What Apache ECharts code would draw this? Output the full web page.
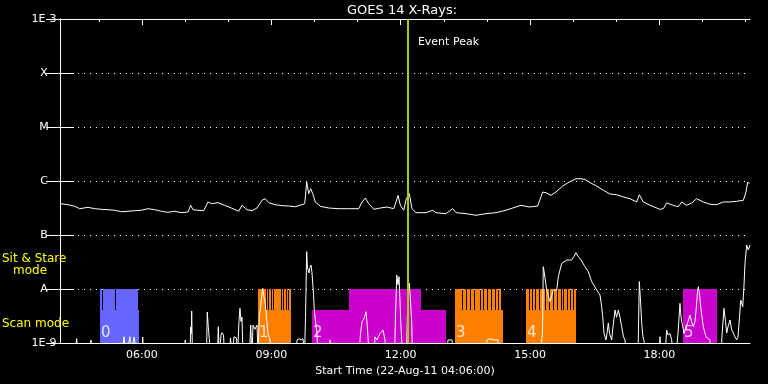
<!DOCTYPE html>
<html>
<head>
<meta charset="utf-8">
<script src="https://cdn.jsdelivr.net/npm/echarts@6/dist/echarts.min.js"></script>
<style>
html,body{margin:0;padding:0;background:#000;}
#chart{width:768px;height:384px;}
</style>
</head>
<body>
<div id="chart"></div>
<script>
// ---------- DATA ----------
// time axis: minutes since start (22-Aug-11 04:06:00)
const titleText = 'GOES 14 X-Rays:';
const startLabel = 'Start Time (22-Aug-11 04:06:00)';
const xMin = 0, xMax = 960;
const xTickMinutes = [114, 294, 474, 654, 834];
const xTickLabels = ['06:00', '09:00', '12:00', '15:00', '18:00'];
const hourTickMinutes = [54, 114, 174, 234, 294, 354, 414, 474, 534, 594, 654, 714, 774, 834, 894, 954];

const yLevels = [1e-9, 1e-8, 1e-7, 1e-6, 1e-5, 1e-4, 1e-3];
const yLabels = ['1E-9', 'A', 'B', 'C', 'M', 'X', '1E-3'];

const eventPeak = 484;          // 12:10
const eventPeakLabel = 'Event Peak';
const eventPeakLabelY = 3.67e-4;

// GOES long channel (1-8 A), W/m^2
const longChannel = [[1,3.80e-7],[11,3.64e-7],[20.5,3.40e-7],[27.4,3.07e-7],[39,3.26e-7],[48.3,3.07e-7],[57.5,2.99e-7],[66.8,2.94e-7],[76.1,2.87e-7],[85.3,2.70e-7],[94.6,2.75e-7],[103.9,2.82e-7],[113.1,2.87e-7],[122.4,3.07e-7],[131.8,2.94e-7],[140.9,2.75e-7],[150.3,2.63e-7],[159.6,2.75e-7],[168.8,2.59e-7],[178.1,2.67e-7],[181.8,3.55e-7],[185,2.94e-7],[192,2.87e-7],[199.9,2.82e-7],[205.9,4.09e-7],[210.5,3.80e-7],[219.8,3.97e-7],[229.1,3.55e-7],[238.3,3.16e-7],[239.3,2.99e-7],[248.6,2.75e-7],[253.2,3.55e-7],[260.2,2.94e-7],[267.1,2.82e-7],[274.1,3.16e-7],[281,4.39e-7],[285.6,4.70e-7],[290.4,3.97e-7],[299.5,3.64e-7],[308.9,3.49e-7],[318.2,3.44e-7],[327.4,3.34e-7],[336.7,3.64e-7],[340.5,3.80e-7],[343.2,9.58e-7],[346,5.82e-7],[348.8,7.20e-7],[351.6,5.82e-7],[355.2,4.09e-7],[362.2,3.40e-7],[373.8,3.16e-7],[387.8,3.07e-7],[401.7,3.07e-7],[415.6,3.07e-7],[420.2,4.09e-7],[424.8,4.84e-7],[429.5,3.80e-7],[436.5,2.99e-7],[445.6,3.16e-7],[455,3.30e-7],[464.3,3.07e-7],[467.5,4.09e-7],[470.3,5.43e-7],[473.5,3.55e-7],[478.2,2.87e-7],[481.8,4.70e-7],[486,5.82e-7],[489.7,3.07e-7],[495.3,2.59e-7],[509.2,2.59e-7],[518.6,2.87e-7],[523.1,2.59e-7],[537,2.48e-7],[546.4,3.07e-7],[551,2.59e-7],[564.9,2.48e-7],[578.8,2.32e-7],[592.7,2.48e-7],[606.6,2.59e-7],[620.5,2.87e-7],[629.8,3.16e-7],[641.4,3.55e-7],[652.9,3.30e-7],[664.6,3.44e-7],[671.6,6.25e-7],[676.2,6.07e-7],[683.1,5.43e-7],[690.1,6.25e-7],[699.4,8.07e-7],[708.6,9.58e-7],[717.9,1.10e-6],[724.9,1.10e-6],[730.4,1.07e-6],[737.4,9.31e-7],[746.7,8.07e-7],[755.9,6.73e-7],[765.2,5.74e-7],[774.6,5.57e-7],[783.7,5.06e-7],[793,4.70e-7],[802.4,4.09e-7],[806,5.57e-7],[811.6,4.09e-7],[820.9,3.55e-7],[834.8,2.99e-7],[839.4,3.07e-7],[844.1,3.92e-7],[853.3,3.55e-7],[860.3,3.34e-7],[865,4.09e-7],[871.9,3.55e-7],[878.9,3.92e-7],[885.8,4.70e-7],[895,4.09e-7],[904.3,3.71e-7],[913.6,3.64e-7],[922.9,4.09e-7],[932.2,4.09e-7],[941.5,4.21e-7],[950.7,4.39e-7],[954.4,6.25e-7],[956.8,9.58e-7],[959,8.91e-7]];

// GOES short channel (0.5-4 A); F = below plot floor
const F = 6e-10;
const shortChannel = [[0,F],[20.9,F],[23.2,1.20e-9],[25,F],[41.7,F],[43.1,1.14e-9],[45.2,F],[86.3,F],[89,1.31e-9],[91.8,F],[97.4,1.31e-9],[98.8,F],[103,1.29e-9],[105.7,1.31e-9],[107.1,F],[114.1,F],[115.1,1.29e-9],[116.2,F],[173.2,F],[174.3,1.14e-9],[175.3,F],[180.9,F],[181.8,1.98e-9],[182.7,1.5e-9],[183.2,3.91e-9],[184.3,F],[203.8,F],[204.9,3.75e-9],[206.3,2.0e-9],[207.7,1.2e-9],[208.7,F],[219.1,F],[220.2,2.0e-9],[221.6,F],[224,1.4e-9],[225.4,1.55e-9],[227.5,1.4e-9],[228.9,F],[235.8,F],[237.2,1.24e-9],[239.3,F],[242.1,1.3e-9],[245.6,1.24e-9],[247,F],[249,2.5e-9],[250.4,4.39e-9],[251.8,2.5e-9],[253.2,3.03e-9],[254.6,F],[263.6,F],[265.3,2.15e-9],[267.1,F],[268.5,2.15e-9],[271.3,1.8e-9],[274.1,2.15e-9],[275.5,F],[277.3,3.07e-9],[279,4.5e-9],[280.4,7e-9],[282,1.03e-8],[283.8,7e-9],[285.2,6.25e-9],[287.3,3e-9],[289.4,1.5e-9],[292.2,1.14e-9],[293.6,F],[329,F],[329.7,1.14e-9],[332.5,1.2e-9],[335.3,1.14e-9],[338.1,1.2e-9],[340.2,F],[341.6,3e-9],[343.2,4.91e-8],[344.3,2.5e-8],[346.4,1.98e-8],[347.8,2.5e-8],[349.2,2.78e-8],[350.6,2.0e-8],[351.6,1.29e-8],[352.7,8e-9],[353.8,4.08e-9],[355.5,2.5e-9],[357.1,1.74e-9],[358.9,F],[374.3,F],[375.7,1.14e-9],[377,F],[416,F],[418.1,1.5e-9],[420.2,2.5e-9],[423,2.8e-9],[425.7,3.80e-9],[427.1,2.5e-9],[428.5,1.3e-9],[429.9,F],[436.9,F],[438.3,1.3e-9],[441,1.14e-9],[445.2,1.5e-9],[449.4,1.74e-9],[452.2,1.14e-9],[453.6,F],[465.4,F],[466.8,3e-9],[468.5,1.82e-8],[470.3,1.2e-8],[471.7,1.69e-8],[473,6e-9],[474,2.67e-9],[475.1,1.3e-9],[476.5,F],[482.1,F],[483.5,4e-9],[484.9,1.0e-8],[486,1.28e-8],[487.7,6e-9],[489.3,2.35e-9],[490.4,F],[537.7,F],[539.8,1.14e-9],[545.4,1.14e-9],[547.5,F],[592,F],[594.1,1.14e-9],[598.3,1.2e-9],[603.8,1.14e-9],[609.4,1.14e-9],[610.8,F],[669.2,F],[670.2,1.14e-9],[671.3,1.5e-9],[672.4,2.59e-8],[673.8,1.98e-8],[677.1,9.58e-9],[681.7,5.82e-9],[686.3,9.58e-9],[691.1,9.58e-9],[693.3,1.69e-8],[698,2.99e-8],[705,3.44e-8],[711.9,3.44e-8],[715.1,4.0e-8],[717.9,4.70e-8],[720.7,4.0e-8],[723.5,3.70e-8],[730.4,2.59e-8],[735,2.09e-8],[739.8,1.37e-8],[746.7,9.58e-9],[751.3,7.74e-9],[753.4,5e-9],[755.1,3.07e-9],[756.9,1.5e-9],[759.7,1.14e-9],[761,1.5e-9],[762.9,2.35e-9],[764.5,1.5e-9],[767.6,1.14e-9],[769.4,2e-9],[772.2,4.08e-9],[774.3,3e-9],[776.8,4.08e-9],[779.1,3e-9],[781.5,2.0e-9],[784,1.3e-9],[786.1,1.14e-9],[787.5,F],[804.2,F],[806,1.37e-8],[807.7,6e-9],[809.3,2.35e-9],[811.1,1.3e-9],[812.5,1.14e-9],[813.9,F],[833.4,F],[834.8,1.31e-9],[836.2,F],[841.7,F],[844.1,1.74e-9],[845.9,1.4e-9],[848.7,1.5e-9],[851,1.14e-9],[852.9,F],[857,F],[859.8,1.5e-9],[862.6,5.43e-9],[864,3e-9],[866.4,2.0e-9],[868.2,1.5e-9],[871,2e-9],[873.8,2.5e-9],[876.5,3.30e-9],[878.6,2.5e-9],[881.1,2.0e-9],[883.5,2.5e-9],[885.6,5e-9],[887,9e-9],[888.1,1.10e-8],[889.7,8e-9],[891.4,4.70e-9],[893.2,3e-9],[895,2.0e-9],[898.8,1.3e-9],[904.3,1.14e-9],[905.8,F],[919.7,F],[921.1,1.4e-9],[923.8,4.39e-9],[925.9,2.5e-9],[927.6,1.53e-9],[929.4,2e-9],[932.2,2.67e-9],[934.3,1.8e-9],[936.8,1.74e-9],[939.1,1.3e-9],[941.5,1.14e-9],[943.3,1.3e-9],[945.4,3e-9],[947.1,6.25e-9],[949.9,4.70e-9],[951.7,1.2e-8],[953,2.99e-8],[955.4,6.53e-8],[957.6,5.27e-8],[960,6.53e-8]];

// Observing-mode blocks
const blockNames = ['0', '1', '2', '3', '4', '5'];
const blockKinds = ['blue', 'orange', 'magenta', 'orange', 'orange', 'magenta'];
const scanLevel = 4.1e-9;     // "Scan mode"
const stareLevel = 1e-8;      // "Sit & Stare mode"
const scanIntervals = [[55.7,109.5],[275.5,321.4],[350.6,536.6],[549.6,616.8],[648.3,717.9],[866.8,914.1]];
const stareIntervals = [
  [[55.7,58.9],[60.3,76.9],[78.3,108.8]],
  [[275.5,286.6],[288,289.4],[290.8,292.9],[294.3,296.3],[297.7,307.4],[308.8,310.9],[312.3,314.4],[315.8,317.2],[318.6,321.4]],
  [[402.1,502.3]],
  [[549.6,559.7],[561.1,564.4],[565.8,570.4],[571.8,575.9],[577.3,584.3],[585.7,588.9],[590.3,594.5],[595.9,599.2],[600.6,605.2],[606.6,609.8],[611.2,613.6]],
  [[648.3,652.9],[654.3,656.7],[658.1,660.4],[661.8,666.8],[668.2,674.8],[676.2,680.8],[682.2,686.3],[687.7,691.9],[693.3,697.0],[698.4,700.2],[701.6,704.9],[706.3,709.5],[710.9,714.1],[715.5,717.9]],
  [[866.8,914.1]]
];
const blockLabelLevel = 1.55e-9;

// ---------- CHART ----------
const kindColor = {blue: '#6666ff', orange: '#ff8000', magenta: '#cc00cc'};
const FONT = 'DejaVu Sans';
const yMin = yLevels[0], yMax = yLevels[yLevels.length - 1];

const blockRects = [];
scanIntervals.forEach((iv, b) => {
  blockRects.push([iv[0], iv[1], scanLevel, b]);
  stareIntervals[b].forEach(s => blockRects.push([s[0], s[1], stareLevel, b]));
});
const blockLabelData = scanIntervals.map((iv, b) => [iv[0], blockLabelLevel, blockNames[b]]);

function fmtY(v) {
  const i = Math.round(Math.log10(v)) + 9;
  return '{l|' + (yLabels[i] || '') + '}';
}

const chart = echarts.init(document.getElementById('chart'), null, {renderer: 'canvas'});
chart.setOption({
  backgroundColor: '#000',
  animation: false,
  title: {
    text: titleText, left: 347, top: 4, padding: 0,
    textStyle: {color: '#fff', fontSize: 13, fontWeight: 'normal', fontFamily: FONT}
  },
  grid: {left: 60, top: 19, width: 690, height: 324},
  graphic: [
    {type: 'text', left: 2, top: 253, style: {text: 'Sit & Stare', fill: '#ffff00', font: '12px "DejaVu Sans"'}},
    {type: 'text', left: 13, top: 265, style: {text: 'mode', fill: '#ffff00', font: '12px "DejaVu Sans"'}},
    {type: 'text', left: 2, top: 318, style: {text: 'Scan mode', fill: '#ffff00', font: '12px "DejaVu Sans"'}}
  ],
  xAxis: [
    {
      type: 'value', position: 'bottom', min: xMin, max: xMax,
      axisLine: {show: true, lineStyle: {color: '#fff', width: 1}},
      axisTick: {show: false},
      splitLine: {show: false},
      axisLabel: {
        customValues: xTickMinutes, color: '#fff', fontSize: 11, fontFamily: FONT, margin: 7,
        formatter: v => xTickLabels[xTickMinutes.indexOf(Math.round(v))] || ''
      },
      name: startLabel, nameLocation: 'middle', nameGap: 20,
      nameTextStyle: {color: '#fff', fontSize: 11, fontFamily: FONT}
    },
    {
      type: 'value', position: 'top', min: xMin, max: xMax,
      axisLine: {show: true, lineStyle: {color: '#fff', width: 1}},
      axisTick: {show: true, inside: true, length: 3, customValues: hourTickMinutes, lineStyle: {color: '#fff'}},
      axisLabel: {show: false}, splitLine: {show: false}
    },
    {
      type: 'value', position: 'top', min: xMin, max: xMax,
      axisLine: {show: false},
      axisTick: {show: true, inside: true, length: 6, customValues: xTickMinutes, lineStyle: {color: '#fff'}},
      axisLabel: {show: false}, splitLine: {show: false}
    }
  ],
  yAxis: [
    {
      type: 'log', logBase: 10, min: yMin, max: yMax, interval: 1, position: 'left',
      axisLine: {show: true, lineStyle: {color: '#fff', width: 1}},
      axisTick: {show: true, inside: true, length: 14, lineStyle: {color: '#fff'}},
      minorTick: {show: false},
      axisLabel: {
        color: '#fff', fontSize: 11, fontFamily: FONT, margin: 3, align: 'right',
        formatter: fmtY,
        rich: {l: {width: 26, align: 'center', color: '#fff', fontSize: 11, fontFamily: FONT}}
      },
      splitLine: {show: true, lineStyle: {color: '#fff', width: 1, type: [1, 5]}}
    },
    {
      type: 'log', logBase: 10, min: yMin, max: yMax, interval: 1, position: 'right',
      axisLine: {show: true, lineStyle: {color: '#fff', width: 1}},
      axisTick: {show: true, inside: true, length: 14, lineStyle: {color: '#fff'}},
      axisLabel: {show: false}, splitLine: {show: false}
    }
  ],
  series: [
    {
      type: 'custom', name: 'modes', z: 1, clip: true,
      data: blockRects,
      encode: {x: [0, 1], y: 2},
      renderItem: function (params, api) {
        const t0 = api.value(0), t1 = api.value(1), lv = api.value(2), b = api.value(3);
        const p0 = api.coord([t0, lv]);
        const p1 = api.coord([t1, yMin]);
        const x0 = Math.round(p0[0]), x1 = Math.round(p1[0]);
        const y0 = Math.round(p0[1]), y1 = Math.round(p1[1]);
        return {
          type: 'rect',
          shape: {x: x0, y: y0, width: Math.max(1, x1 - x0), height: y1 - y0},
          style: {fill: kindColor[blockKinds[b]]}
        };
      }
    },
    {
      type: 'line', name: 'long', z: 3, data: longChannel, showSymbol: false, symbol: 'none',
      clip: true, lineStyle: {color: '#fff', width: 1}
    },
    {
      type: 'line', name: 'short', z: 3, data: shortChannel, showSymbol: false, symbol: 'none',
      clip: true, lineStyle: {color: '#fff', width: 1}
    },
    {
      type: 'scatter', name: 'labels', z: 4, data: blockLabelData, symbolSize: 0,
      label: {
        show: true, position: 'right', distance: 1, color: '#fff', fontSize: 15, fontFamily: FONT,
        formatter: p => p.value[2]
      }
    },
    {
      type: 'line', name: 'event', z: 10, data: [],
      markLine: {
        silent: true, symbol: 'none', label: {show: false},
        lineStyle: {color: '#a0d000', width: 2, type: 'solid'},
        data: [{xAxis: eventPeak}]
      },
      markPoint: {
        symbol: 'circle', symbolSize: 0,
        label: {show: true, position: 'right', distance: 10, color: '#fff', fontSize: 11, fontFamily: FONT, formatter: eventPeakLabel},
        data: [{coord: [eventPeak, eventPeakLabelY]}]
      }
    }
  ]
});
</script>
</body>
</html>
